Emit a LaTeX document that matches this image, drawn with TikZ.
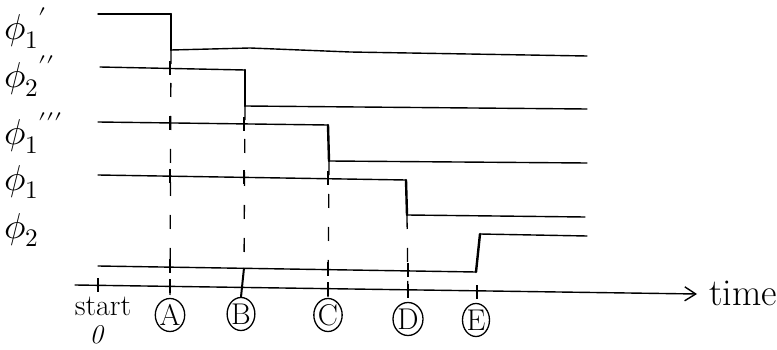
\documentclass[tikz,border=0pt]{standalone}
\usepackage{unicode-math}
\usetikzlibrary{arrows.meta,shapes.geometric}
\begin{document}
\begin{tikzpicture}[x=1pt,y=-1pt,
  wave/.style={line width=1.4pt, line cap=round, line join=round},
  edge/.style={line width=2.4pt, line cap=round},
  guide/.style={line width=1.3pt, dash pattern=on 14pt off 19pt},
  tickmark/.style={line width=1.3pt},
  lbl/.style={font=\fontsize{36}{36}\selectfont, inner sep=0pt, anchor=base west},
  circ/.style={draw, ellipse, line width=1.3pt, minimum width=27pt, minimum height=33pt, inner sep=0pt, font=\fontsize{30}{30}\selectfont},
  txt/.style={inner sep=0pt}]
\useasboundingbox (0,0) rectangle (777,350);

% labels
\node[lbl] (l1) at (4,40) {$\phi_1{}^{\prime}$};
\node[lbl] (l2) at (4,88) {$\phi_2{}^{\prime\prime}$};
\node[lbl] (l3) at (4,145) {$\phi_1{}^{\prime\prime\prime}$};
\node[lbl] (l4) at (4,190) {$\phi_1$};
\node[lbl] (l5) at (4,238) {$\phi_2$};

% transition coordinates
\coordinate (a1) at (171,14);  \coordinate (a2) at (171,50);
\coordinate (b1) at (245,70);  \coordinate (b2) at (245,106);
\coordinate (c1) at (328,125); \coordinate (c2) at (329,161);
\coordinate (d1) at (406,180); \coordinate (d2) at (407,215);
\coordinate (e1) at (476,272); \coordinate (e2) at (480,234);

% waveforms
\draw[wave] (98,14) -- (a1);
\draw[edge] (a1) -- (a2);
\draw[wave] (a2) -- (250,48) -- (350,52) -- (587,56);

\draw[wave] (100,67) -- (b1);
\draw[edge] (b1) -- (b2);
\draw[wave] (b2) -- (587,109);

\draw[wave] (98,122) -- (c1);
\draw[edge] (c1) -- (c2);
\draw[wave] (c2) -- (587,163);

\draw[wave] (98,175) -- (d1);
\draw[edge] (d1) -- (d2);
\draw[wave] (d2) -- (585,217);

\draw[wave] (98,266) -- (e1);
\draw[edge] (e1) -- (e2);
\draw[wave] (e2) -- (587,236);

% time axis
\coordinate (ax0) at (75,285);
\coordinate (ax1) at (697,294);
\draw[wave, -{Straight Barb[length=11pt,width=14pt,line width=1.4pt]}] (ax0) -- (ax1);
\node[txt, font=\fontsize{38}{38}\selectfont, anchor=base east] (time) at (777,305) {time};

% circled event labels
\node[circ] (A) at (170,315) {A};
\node[circ] (B) at (241,314) {B};
\node[circ] (C) at (328,315) {C};
\node[circ] (D) at (408,319) {D};
\node[circ] (E) at (476,320) {E};
\node[txt, font=\fontsize{30}{30}\selectfont] (start) at (103,306) {start};
\node[txt, font=\fontsize{27}{27}\selectfont] (zero) at (97,335) {\textit{0}};

% guide lines
\draw[guide] (a2) -- (170,296);
\draw[guide] (b2) -- (244,268);
\draw[tickmark, line width=2pt] (244,268) -- (B.north);
\draw[guide] (c2) -- (328,297);
\draw[guide] (d2) -- (408,297);

% tick marks at crossings
\foreach \x/\y in {170/68, 170/123, 170/176, 170/266, 170/286,
                   244/124, 244/177,
                   328/178, 328/269, 328/289,
                   408/270, 408/291,
                   477/292, 98/285} {
  \draw[tickmark] (\x,\y-7) -- (\x,\y+7);
}
\end{tikzpicture}
\end{document}
